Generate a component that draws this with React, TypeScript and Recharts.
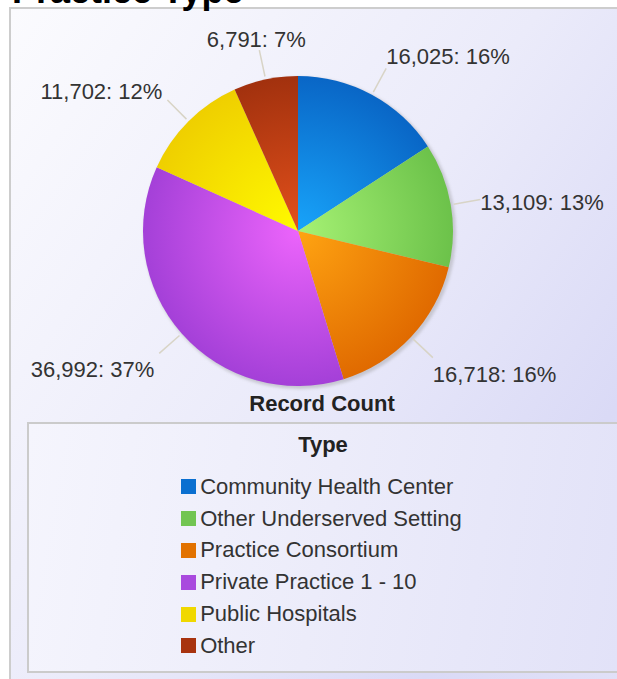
import React from 'react';
import { PieChart, Pie, Cell, Legend } from 'recharts';

const chartTitle = 'Practice Type';
const measureLabel = 'Record Count';
const legendTitle = 'Type';
const categories = [
  'Community Health Center',
  'Other Underserved Setting',
  'Practice Consortium',
  'Private Practice 1 - 10',
  'Public Hospitals',
  'Other',
];
const recordCounts = [16025, 13109, 16718, 36992, 11702, 6791];
const legendColors = ['#0a6fd0', '#72c552', '#e27200', '#a94ade', '#f0d800', '#a8330f'];
const innerColors = ['#18a4fa', '#a6f274', '#ffa412', '#ec64fb', '#fffa00', '#e2501b'];
const outerColors = ['#0966c6', '#6cc24a', '#e06a00', '#a440d8', '#efcf00', '#a2310e'];

const data = categories.map((name, i) => ({ name, value: recordCounts[i] }));

const FONT = '"Liberation Sans", Arial, Helvetica, sans-serif';
const CX = 298;
const CY = 231;
const R = 155;

const renderLabel = (props: any) => {
  const { cx, cy, midAngle, outerRadius, value, percent } = props;
  const RAD = Math.PI / 180;
  const s = Math.cos(midAngle * RAD);
  const c = Math.sin(midAngle * RAD);
  const r0 = outerRadius + 3;
  const r1 = outerRadius + 30;
  const x0 = cx + r0 * s;
  const y0 = cy - r0 * c;
  const x1 = cx + r1 * s;
  const y1 = cy - r1 * c;
  const anchor = Math.abs(s) < 0.3 ? 'middle' : s > 0 ? 'start' : 'end';
  const tx = anchor === 'middle' ? x1 - 3 : x1 + (s > 0 ? 0 : -5);
  const extra = anchor !== 'middle' && c > 0.5 ? -3 : 0;
  const ty = y1 + 5.5 - 16 * c + extra;
  return (
    <g>
      <line x1={x0} y1={y0} x2={x1} y2={y1} stroke="#d8d4c6" strokeWidth={1.5} />
      <text
        x={tx}
        y={ty}
        textAnchor={anchor}
        dominantBaseline="central"
        fill="#333"
        fontSize={22}
        fontFamily={FONT}
      >
        {`${Number(value).toLocaleString('en-US')}: ${Math.round(percent * 100)}%`}
      </text>
    </g>
  );
};

const LegendBox = (props: any) => {
  const raw: any[] = props && props.payload && props.payload.length ? props.payload : categories.map((c) => ({ value: c }));
  const payload = [...raw].sort((a, b) => categories.indexOf(a.value) - categories.indexOf(b.value));
  return (
    <div
      style={{
        width: 590,
        height: 251,
        boxSizing: 'border-box',
        border: '2px solid #cbcbcb',
        borderRight: 'none',
        background: 'linear-gradient(100deg, #f5f5fd 0%, #ececfa 50%, #e2e2f8 100%)',
        fontFamily: FONT,
        color: '#333',
        display: 'flex',
        flexDirection: 'column',
        alignItems: 'center',
      }}
    >
      <div style={{ fontWeight: 'bold', fontSize: 22, lineHeight: '22px', marginTop: 10, color: '#222' }}>{legendTitle}</div>
      <div style={{ marginTop: 15, marginRight: 3 }}>
        {payload.map((p: any, i: number) => (
          <div key={i} style={{ display: 'flex', alignItems: 'center', height: 31.8 }}>
            <span
              style={{
                width: 15,
                height: 15,
                background: legendColors[Math.max(0, categories.indexOf(p.value))],
                display: 'inline-block',
                marginRight: 4,
              }}
            />
            <span style={{ fontSize: 22, lineHeight: '22px', whiteSpace: 'nowrap' }}>{p.value}</span>
          </div>
        ))}
      </div>
    </div>
  );
};

export default function App() {
  return (
    <div style={{ position: 'absolute', left: 0, top: 0, width: 617, height: 679, overflow: 'hidden', fontFamily: FONT }}>
      <div
        style={{
          position: 'absolute',
          left: 9,
          top: 7,
          width: 680,
          height: 720,
          boxSizing: 'border-box',
          border: '2px solid #cdcdcd',
          background: 'linear-gradient(125deg, #fbfbfe 0%, #ebebfa 45%, #dadaf6 75%, #e4e4f8 100%)',
        }}
      />
      <svg width={617} height={679} style={{ position: 'absolute', left: 0, top: 0 }}>
        <defs>
          <filter id="shadowBlur" x="-20%" y="-20%" width="140%" height="140%">
            <feGaussianBlur stdDeviation="1.5" />
          </filter>
        </defs>
        <circle cx={CX + 2} cy={CY + 2} r={R + 1} fill="#b8b8c0" opacity={0.7} filter="url(#shadowBlur)" />
      </svg>
      <div style={{ position: 'absolute', left: 0, top: 0 }}>
        <PieChart width={617} height={679} margin={{ top: 0, right: 0, bottom: 0, left: 0 }}>
          <defs>
            {innerColors.map((ic, i) => (
              <radialGradient key={i} id={`sliceGrad${i}`} cx={CX} cy={CY} r={R} gradientUnits="userSpaceOnUse">
                <stop offset="0%" stopColor={ic} />
                <stop offset="100%" stopColor={outerColors[i]} />
              </radialGradient>
            ))}
          </defs>
          <Pie
            data={data}
            dataKey="value"
            nameKey="name"
            cx={CX}
            cy={CY}
            outerRadius={R}
            startAngle={90}
            endAngle={-270}
            stroke="none"
            label={renderLabel}
            labelLine={false}
            isAnimationActive={false}
          >
            {data.map((d, i) => (
              <Cell key={d.name} fill={`url(#sliceGrad${i})`} />
            ))}
          </Pie>
          <Legend
            verticalAlign="bottom"
            content={(p: any) => <LegendBox {...p} />}
            wrapperStyle={{ left: 27, top: 422, bottom: 'auto', width: 590, height: 251 }}
          />
        </PieChart>
      </div>
      <div
        style={{
          position: 'absolute',
          left: 0,
          width: 644,
          top: 392,
          textAlign: 'center',
          fontWeight: 'bold',
          fontSize: 22,
          lineHeight: '24px',
          color: '#222',
        }}
      >
        {measureLabel}
      </div>
      <svg width={617} height={40} style={{ position: 'absolute', left: 0, top: 0 }}>
        <text x={12} y={3} fontSize={36} fontWeight="bold" fill="#000" fontFamily={FONT}>
          {chartTitle}
        </text>
      </svg>
    </div>
  );
}
